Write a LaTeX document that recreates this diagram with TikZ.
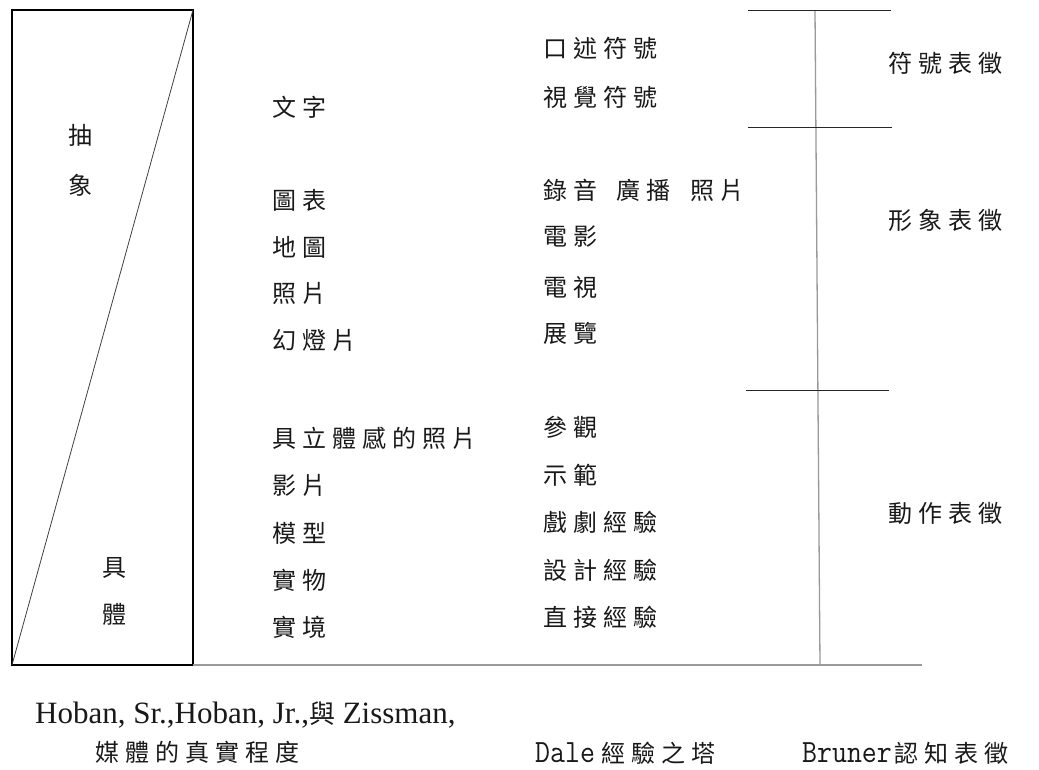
\documentclass[tikz,border=0pt]{standalone}
\usepackage{graphicx}
\usepackage{fontspec}
\setmainfont{Liberation Serif}
\newfontfamily\cjk[LetterSpace=25]{Noto Sans CJK TC}
\newfontfamily\cjkplain{Noto Sans CJK TC}
\tikzset{
  lbl/.style={anchor=west, inner sep=0pt, text=black!90, font=\fontsize{24}{28}\selectfont\cjk},
  vlbl/.style={anchor=center, inner sep=0pt, text=black!90, font=\fontsize{24}{28}\selectfont\cjkplain},
  blackline/.style={line width=1pt, black!85},
  grayline/.style={line width=1.3pt, black!40},
}
\begin{document}
\begin{tikzpicture}[x=1pt,y=-1pt]
\useasboundingbox (0,0) rectangle (1039,769);
\fill[white] (0,0) rectangle (1039,769);
% left box
\coordinate (bTL) at (12,10);
\coordinate (bTR) at (193,10);
\coordinate (bBL) at (12,665);
\coordinate (bBR) at (193,665);
\draw[line width=1.2pt, black] (bTL) rectangle (bBR);
\draw[line width=0.8pt, black!75] (bBL) -- (bTR);
% base line and vertical axis
\coordinate (gEnd) at (922,665);
\draw[grayline] (bBR) -- (gEnd);
\coordinate (vTop) at (815,10);
\coordinate (vBot) at (820,665);
\draw[grayline] (vTop) -- (vBot);
% horizontal ticks
\coordinate (h1a) at (748,10);  \coordinate (h1b) at (891,10);
\coordinate (h2a) at (748,127); \coordinate (h2b) at (892,127);
\coordinate (h3a) at (746,390); \coordinate (h3b) at (889,390);
\draw[blackline] (h1a) -- (h1b);
\draw[blackline] (h2a) -- (h2b);
\draw[blackline] (h3a) -- (h3b);
% left box labels
\node[vlbl] (chou) at (80,135) {抽};
\node[vlbl] (xiang) at (80,185) {象};
\node[vlbl] (ju) at (114,568) {具};
\node[vlbl] (ti) at (114,614) {體};
% column 2
\node[lbl] (c2a) at (272,107) {文字};
\node[lbl] (c2b) at (272,200) {圖表};
\node[lbl] (c2c) at (272,247) {地圖};
\node[lbl] (c2d) at (272,293) {照片};
\node[lbl] (c2e) at (272,340) {幻燈片};
\node[lbl] (c2f) at (272,438) {具立體感的照片};
\node[lbl] (c2g) at (272,485) {影片};
\node[lbl] (c2h) at (272,533) {模型};
\node[lbl] (c2i) at (272,580) {實物};
\node[lbl] (c2j) at (272,627) {實境};
% column 3
\node[lbl] (c3a) at (543,48) {口述符號};
\node[lbl] (c3b) at (543,97) {視覺符號};
\node[lbl] (c3c) at (543,190) {錄音\kern19pt 廣播\kern20pt 照片};
\node[lbl] (c3d) at (543,237) {電影};
\node[lbl] (c3e) at (543,287) {電視};
\node[lbl] (c3f) at (543,333) {展覽};
\node[lbl] (c3g) at (543,427) {參觀};
\node[lbl] (c3h) at (543,475) {示範};
\node[lbl] (c3i) at (543,522) {戲劇經驗};
\node[lbl] (c3j) at (543,570) {設計經驗};
\node[lbl] (c3k) at (543,617) {直接經驗};
% column 4
\node[lbl] (c4a) at (888,63) {符號表徵};
\node[lbl] (c4b) at (888,220) {形象表徵};
\node[lbl] (c4c) at (888,513) {動作表徵};
% captions
\node[anchor=base west, inner sep=0pt, text=black!90, font=\fontsize{31}{33}\selectfont] (capA) at (35,723)
  {Hoban, Sr.,Hoban, Jr.,{\fontsize{26}{28}\selectfont\cjkplain 與} Zissman,};
\node[lbl] (capB) at (95,752) {媒體的真實程度};
\node[lbl] (capC) at (535,753) {{\fontsize{29}{30}\selectfont\ttfamily\scalebox{1}[1.12]{Dale}}\kern7pt 經驗之塔};
\node[lbl] (capD) at (802,753) {{\fontsize{29}{30}\selectfont\ttfamily\scalebox{1}[1.12]{Bruner}}\kern3pt 認知表徵};
\end{tikzpicture}
\end{document}
